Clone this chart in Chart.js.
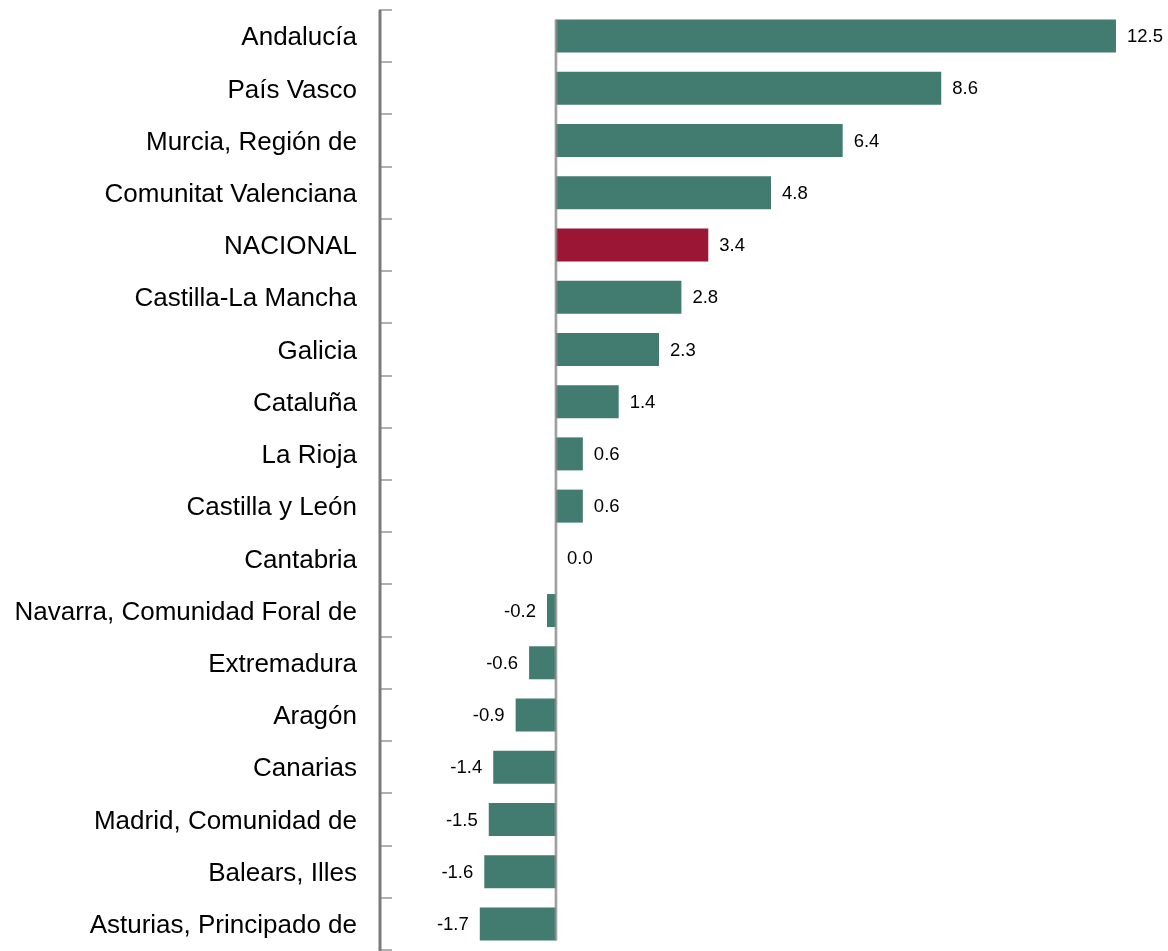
<!DOCTYPE html>
<html>
<head>
<meta charset="utf-8">
<script src="https://cdn.jsdelivr.net/npm/chart.js@4"></script>
<style>
  html, body { margin: 0; padding: 0; background: #fff; }
  #wrap { width: 1168px; height: 951px; }
</style>
</head>
<body>
<div id="wrap"><canvas id="resChart"></canvas></div>
<script>
const regiones = ["Andalucía", "País Vasco", "Murcia, Región de", "Comunitat Valenciana", "NACIONAL",
  "Castilla-La Mancha", "Galicia", "Cataluña", "La Rioja", "Castilla y León", "Cantabria",
  "Navarra, Comunidad Foral de", "Extremadura", "Aragón", "Canarias", "Madrid, Comunidad de",
  "Balears, Illes", "Asturias, Principado de"];
const valores = [12.5, 8.6, 6.4, 4.8, 3.4, 2.8, 2.3, 1.4, 0.6, 0.6, 0.0, -0.2, -0.6, -0.9, -1.4, -1.5, -1.6, -1.7];

const green = "#427b70";
const red = "#9b1535";
const barColors = regiones.map(r => r === "NACIONAL" ? red : green);

// axis line, ticks, zero line and value labels
const extras = {
  id: "extras",
  beforeDatasetsDraw(chart) {
    const ctx = chart.ctx;
    const area = chart.chartArea;
    const step = (area.bottom - area.top) / regiones.length;
    ctx.save();
    // tick marks
    ctx.strokeStyle = "#b0b0b0";
    ctx.lineWidth = 2;
    for (let i = 0; i <= regiones.length; i++) {
      const ty = Math.round(area.top + i * step);
      ctx.beginPath();
      ctx.moveTo(area.left, ty);
      ctx.lineTo(area.left + 13, ty);
      ctx.stroke();
    }
    // axis line
    ctx.strokeStyle = "#7a7a7a";
    ctx.lineWidth = 3;
    ctx.beginPath();
    ctx.moveTo(area.left + 1, area.top);
    ctx.lineTo(area.left + 1, chart.height);
    ctx.stroke();
    ctx.restore();
  },
  afterDatasetsDraw(chart) {
    const ctx = chart.ctx;
    const x = chart.scales.x;
    const meta = chart.getDatasetMeta(0);
    ctx.save();
    // zero line
    const first = meta.data[0], last = meta.data[meta.data.length - 1];
    const x0 = x.getPixelForValue(0);
    ctx.strokeStyle = "rgba(150,150,150,0.6)";
    ctx.lineWidth = 3;
    ctx.beginPath();
    ctx.moveTo(x0, first.y - first.height / 2);
    ctx.lineTo(x0, last.y + last.height / 2);
    ctx.stroke();
    ctx.strokeStyle = "#808080";
    ctx.lineWidth = 1;
    ctx.beginPath();
    ctx.moveTo(x0, first.y - first.height / 2);
    ctx.lineTo(x0, last.y + last.height / 2);
    ctx.stroke();

    ctx.font = "18.5px 'Liberation Sans', Arial, sans-serif";
    ctx.fillStyle = "#000";
    ctx.textBaseline = "middle";
    meta.data.forEach((bar, i) => {
      const v = valores[i];
      const txt = v.toFixed(1);
      if (v < 0) {
        ctx.textAlign = "right";
        ctx.fillText(txt, bar.x - 11, bar.y + 1);
      } else {
        ctx.textAlign = "left";
        ctx.fillText(txt, x.getPixelForValue(v) + 11, bar.y + 1);
      }
    });
    ctx.restore();
  }
};

new Chart("resChart", {
  type: "bar",
  data: {
    labels: regiones,
    datasets: [{
      data: valores,
      backgroundColor: barColors,
      barPercentage: 0.8,
      categoryPercentage: 0.79
    }]
  },
  options: {
    indexAxis: "y",
    responsive: true,
    maintainAspectRatio: false,
    animation: false,
    layout: { padding: { top: 10, bottom: 1, right: 5, left: 0 } },
    plugins: {
      legend: { display: false },
      tooltip: { enabled: false }
    },
    scales: {
      x: {
        display: false,
        min: -3.95,
        max: 13.55
      },
      y: {
        afterFit(scale) {
          scale.width = 379;
          scale.paddingTop = 0;
          scale.paddingBottom = 0;
        },
        border: { display: false },
        grid: { display: false },
        ticks: {
          color: "#000",
          padding: 14,
          labelOffset: 2,
          font: { family: "'Liberation Sans', Arial, sans-serif", size: 26 }
        }
      }
    }
  },
  plugins: [extras]
});
</script>
</body>
</html>
